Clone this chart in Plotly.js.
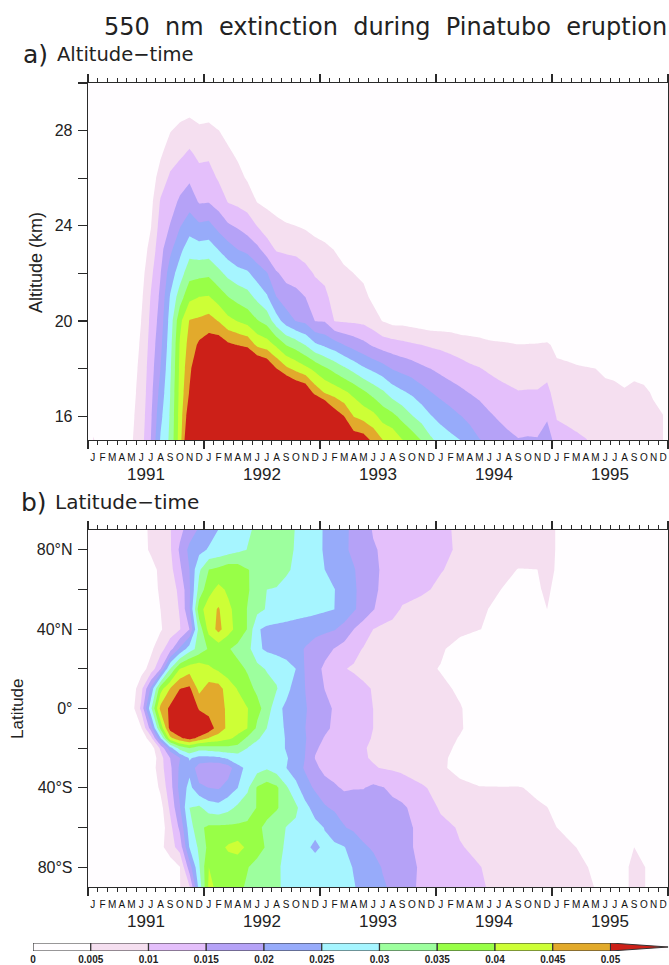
<!DOCTYPE html>
<html><head><meta charset="utf-8">
<script src="https://cdn.plot.ly/plotly-3.0.1.min.js"></script>
<style>html,body{margin:0;padding:0;background:#fff}#c{width:669px;height:965px}</style>
</head><body><div id="c"></div>
<script>
// Extinction values in units of 0.001 km-1
const contourLevels = [0,0.005,0.01,0.015,0.02,0.025,0.03,0.035,0.04,0.045,0.05];
const levelColors = ['#FFFDFF','#F5DFF0','#E4BFFB','#B5A2F7','#97ABFA','#A6F5FF','#9DFF9E','#98FF47','#CDFF36','#E2AA2C','#CC2018'];
const monthLetters = ['J','F','M','A','M','J','J','A','S','O','N','D'];
const yearLabels = ['1991','1992','1993','1994','1995'];
const altitudes = [15,16,17,18,19,20,21,22,23,24,25,26,27,28,29];
const altMonths = [0,1,3,4,5,6,7,8,9,10,11,12,13,14,15,16,17,18,19,20,21,22,23,24,25,26,27,28,29,30,31,32,33,34,35,36,37,38,39,40,41,42,43,44,45,46,47,48,49,50,51,52,53,54,55,56,57,58,59];
// one array per month, lowest altitude first
const altM0=[6],altM1=[0],altM3=[0];
const altM4=[4.5,4,3.5,3,2.5,2,1];
const altM5=[8,7.3,6.7,6.2,5.6,5,4,3,2,1];
const altM6=[15,14.2,13.4,12.7,11.9,11.1,10.3,8.8,6.7,4.7,3.5,2,1];
const altM7=[25.5,23.7,21.8,20,18.6,17.2,16,14.8,13.4,12,10.5,7.5,4.3,2];
const altM8=[31,30.5,29.9,29,28,27,25.4,22.5,18.9,15.2,12.9,10.8,8,4.7,1];
const altM9=[42.5,42,41.5,41,40.5,38.6,32.6,27.5,23.6,19.6,15.8,12.8,9.2,6.3,2.5];
const altM10=[58,54,50.4,48.6,46.9,45.3,38.8,33.2,28,22.7,18,14.2,10.8,7.4,3];
const altM11=[68,64,60,56,51,45.9,40.1,33.6,27.2,20.9,14.6,11.8,9,6.1,2];
const altM12=[72,68,63,58,53,47,40.4,34,27.5,21.4,14.8,12,9.2,6.3,2.5];
const altM13=[76,71,66,60,53.6,44.8,37.8,31.4,24.9,18.3,13,9.5,7.3,5.1,1];
const altM14=[75,70,64,58,50.9,41.4,35.1,28.6,22.2,15.7,9.8,7.8,5.9,3.5];
const altM15=[72,67,62,60,49.8,39.8,33.3,26.8,20,14.3,8.9,6.6,4.3,2];
const altM16=[72,67,63,60,48.8,38.2,31.9,25.8,18.7,12.5,7.9,4.5,2.5];
const altM17=[70,66,62,57.8,43.9,35.4,28.8,22.8,16.3,9.9,4.9,2];
const altM18=[68,64,60,55.5,42.4,33.3,25.7,20.4,12.7,7.4,4,1.5];
const altM19=[66,62,57,50,39,27.2,20.1,15.6,9.5,6.3,3];
const altM20=[68,65,60.3,46,34.8,22.7,17.4,13.4,9.2,5.4,2.5];
const altM21=[66,62,56.7,43.6,32.8,19.9,16.5,12.8,8.9,5,2];
const altM22=[64,60,55.1,41.3,29.8,18.9,15,11.5,7.9,4.4,1];
const altM23=[74,68,48,38.6,25.8,14.9,12.3,9.6,6.6,3.6];
const altM24=[66,61,44.6,35.8,24.1,14.7,11.4,8.5,5.9,3];
const altM25=[60,53.3,43,33.3,22.4,9.9,7.8,6.5,4.9,2];
const altM26=[60,50,40.9,30.8,19.9,9.5,7.7,5.8,3.5];
const altM27=[53.2,44.8,38.7,28.3,18,9.3,7.15,5,2.5];
const altM28=[52.6,43.1,35.9,25.7,16.3,8.9,6.4,4,1];
const altM29=[48.7,41.5,33.3,23.8,14.3,7.4,3.8,2];
const altM30=[45,38,30.8,22,12.8,4.8,2];
const altM31=[43.5,36.4,27.6,19.7,12.1,3.5,1];
const altM32=[40.2,33.5,25.7,18.5,11.3,3.5];
const altM33=[38,30.3,24.2,17.4,10.6,3];
const altM34=[34.8,28,22,16,10,2.5];
const altM35=[30.8,25.2,20.1,14.9,9.3,2];
const altM36=[28,23.3,18.6,13.7,8.9,2];
const altM37=[26.4,21.8,17.2,12.7,8.3,2];
const altM38=[25,20.2,16,11.8,7.6,1.5];
const altM39=[22,18.9,14.8,10.8,7.1,1.5];
const altM40=[20.2,17.1,13.9,10.2,6.8,1];
const altM41=[18.8,15.7,12.5,9.3,6.2];
const altM42=[17.4,14.4,11.5,8.6,5.8];
const altM43=[16.1,13.4,10.8,8.1,5.5];
const altM44=[15.2,12.7,10.2,7.7,5.1];
const altM45=[15.4,12.9,10.3,7.8,5.2];
const altM46=[15.3,12.8,10.3,7.8,5.3];
const altM47=[19,13.9,11.2,8.4,5.6];
const altM48=[11.6,9.7,7.8,5.9,3.9];
const altM49=[11.1,9.3,7.5,5.7,3.5];
const altM50=[10.6,8.9,7.2,5.4,3];
const altM51=[10.1,8.5,6.9,5.2,2.5];
const altM52=[9.4,7.9,6.5,5,2.5];
const altM53=[8.6,7.4,6.2,4.2,1];
const altM54=[8,7,5.9,4,1];
const altM55=[7.5,6.5,5.4,3.4,0.5];
const altM56=[8,7,5.9,4,1];
const altM57=[7.8,6.8,5.7,3.5,1];
const altM58=[6.8,5.8,4.6,2];
const altM59=[6,5.1,3,1];
const altColumns=[altM0,altM1,altM3,altM4,altM5,altM6,altM7,altM8,altM9,altM10,altM11,altM12,altM13,altM14,altM15,altM16,altM17,altM18,altM19,altM20,altM21,altM22,altM23,altM24,altM25,altM26,altM27,altM28,altM29,altM30,altM31,altM32,altM33,altM34,altM35,altM36,altM37,altM38,altM39,altM40,altM41,altM42,altM43,altM44,altM45,altM46,altM47,altM48,altM49,altM50,altM51,altM52,altM53,altM54,altM55,altM56,altM57,altM58,altM59];

const latMonths=[4,5,6,7,8,9,10,11,12,13,14,15,16,17,18,19,20,21,22,23,24,25,26,27,28,29,30,31,32,34,36,38,40,42,44,46,47,48,50,52,54,56,58,59];
const latitudes=[-90,-80,-70,-60,-50,-40,-30,-25,-20,-15,-10,0,10,20,30,40,50,60,70,80,90];
const latS90=[0,0,0,0,0,4.8,9.5,27,41,39,37.8,36,34.4,33.2,32,30.3,29.6,29,28.4,27.8,27.2,26.7,26.1,25.2,24,22.8,20.5,19.3,16.5,14.4,13,11.8,10.3,9.4,8.5,7.7,7.3,6.9,6.2,4.9,0,7,3.5,0];
const latS80=[0,0,0,0,2,4.8,17.5,29.5,40,38.5,37.5,36.5,35.2,33.6,32,30.5,29.3,28.5,28,27.5,27,26.5,26,24.8,23.3,21.5,19.7,18,16.7,14.5,12.8,11,10.1,9.1,8.2,7.4,7,6.6,5.8,4.5,0,7,3.5,0];
const latS70=[0,0,0,3.5,7.8,12,25.2,31,36.4,38.5,40.7,42,39,36.7,34.5,31.5,29.4,27.3,26,24,26,25.9,25.2,23,20.6,19.5,19,17.4,16.3,14,12,10.2,9.3,8.4,7.5,6.7,6.3,5.8,5,1,0,5,0.5,0];
const latS60=[0,0,0,2,8.5,16,27.5,34,36,36,36,36,36,36,33.9,32,29.9,29,27.8,26.6,24.8,22.5,20.2,19.2,18.3,17.7,17,16.5,15.9,14.3,11.2,9.6,8.7,7.8,6.9,6.1,5.6,5,3,1];
const latS50=[0,0,0.5,3,11,19.6,30,31,27.5,26.8,28.5,31,33,35.2,36.8,35.5,33,31,26.5,23,20.4,19.4,18.7,18.2,17.7,17.2,16.6,16.2,15.7,13,9.4,8.6,7.8,7,6.3,5.5,5.1,3.5,1.5];
const latS40=[0,0,1,6,13,21.5,26.5,21,20,19.5,22,25,29,35.5,37.5,36,30.8,26.6,22,19.3,17.9,16,14.2,14.7,14.8,16,15.2,14,13,10.6,8.5,6,5.2,5.2,5.3,4.2,2.5,1.5];
const latS30=[0,0,2,8,14,20.9,23.6,17,15.5,15.5,17.5,23.7,26,28,29.5,27.5,25.1,22.4,19.3,16.5,13,12,11.6,11.2,10.8,10.3,9.8,9.4,8.8,7.7,5.6,3.8,2.5,1.5,0.5];
const latS25=[0,0,1,8,15,19.8,25.5,23.5,23.5,24,26,27.5,28.5,29,28.5,27,25.5,23,19.8,14.8,13.4,12.4,11.6,10.9,10.3,9.7,9.2,8.7,8.1,7.2,5.7,3.8,2.3,1];
const latS20=[0,0,2,10.8,22.6,31.8,35,32,32.5,33,33.5,33,29.9,28.8,27.9,27,24.7,22,20,15.5,14,13,12.1,11.2,10.3,9.4,8.8,8.3,7.7,6.9,5.9,4.4,2.5,1];
const latS15=[0,1,8,24.5,43.5,49,52,48.5,44.7,43,41,38.6,34,30.4,29,27,24.7,22.3,20.3,16.6,14.7,13.9,12.9,11.9,11,9.7,9.1,8.6,8,7.2,6.2,4.8,3,1.5];
const latS10=[0.5,4.5,17,36,52,54.5,57,56,53,47.5,44,42,40,34.1,30,27,24.4,22.2,20,18,15.8,14.3,13.2,12.2,11.1,10,9.4,8.9,8.2,7.5,6.5,5.3,3.5,2,1];
const latEq=[2.5,11,28.5,46.5,51,55,56,49.4,48,47,44,42.3,40.2,36.5,33,26.5,24,22,20.3,18.4,16.1,14.6,13.5,12.5,11.2,10,9.5,9,8.4,7.6,6.6,5.2,3.5,2,1];
const latN10=[2,8.3,20.8,38,45.2,49.9,51,43.5,47,47,42.5,39.7,36.5,34.1,32.5,30.4,26.5,23.1,19.9,17.5,14.9,13.9,12.7,11.7,10.6,9.8,9.2,8.7,8.2,7.3,5.7,4.5,3,2,1];
const latN20=[0.5,3,6.8,14.7,30,40,43,43.5,41,39,37.5,36.3,34.5,31.8,29.5,28.5,27.2,25,19.4,16.6,14.1,12.2,10.2,9.5,9,8.5,8,7.5,6.9,5.9,4.8,3,2,1];
const latN30=[0.5,2,4,8,13.2,20.8,27.6,32,35.5,37,35.4,33.6,32,26,24.2,23.4,22.5,21.3,19.7,18,16.5,14.8,13,11.4,9.7,8.5,7.7,7.2,6.7,6.2,5.5,3.5,2,1];
const latN40=[0,1,2.5,4.5,7.3,9.7,15,32,41.8,46.5,42,38.2,34.8,25.5,24,23.5,23,22.5,22,21.5,21,20.3,18.5,15,12.5,10,9,8.6,8.2,7.5,6.8,6,5.1,4,3,2,2,1];
const latN50=[0,1,3,5,7.6,10.3,19.3,38,42.7,45.5,41.2,38,34.8,31.6,29.6,28.9,28.3,27.6,27,26.4,25.7,25,23,20.6,18.1,15.3,13,11.5,9.6,8.5,7.5,6.6,5.4,4.5,3.5,3.5,5,3,1];
const latN60=[0,1.5,3.5,5.5,7.9,11,19.3,31.9,38.2,41.5,39.1,37.3,35.5,33,30,29.8,29,28.3,27.6,26.8,26.1,25.1,22.9,20.7,18.3,15.9,14.2,13,11.5,10.7,9.2,7.6,6.6,5.1,4.2,4.8,5.3,4.5,2,0.5];
const latN70=[0,2,3.5,5.9,8.4,14,20,29.2,35,36.2,38,37.5,35.2,34,33,31.5,30.5,29.4,27.9,26.5,25,23.5,21.9,20.3,18.2,15.9,14.5,14,12.8,11.5,10.2,9,7.5,6.1,4.9,5,5.3,4.9,3,1];
const latN80=[1,3.5,5.6,7.5,9.4,15.8,21.3,23.5,25.5,26.4,27.6,28.9,30.1,31,32,32,31,29.7,28,26.2,24.6,22.7,20.8,19,17.2,15.4,14.5,14,13,11.9,10.8,9.5,8.6,7.7,6.8,5.9,5.5,4.9,3,1];
const latN90=[1,3.5,5.8,7.7,9.7,13.6,17.5,20.7,22.9,25.1,26.6,28.1,29.6,30.5,31,31,30.7,29.9,28,26.3,24.6,22.6,20.9,19,16.9,14.7,14.2,13.7,13.1,11.8,10.6,9.5,8.6,7.7,6.8,5.9,5.5,4.9,3,1];
const latRows=[latS90,latS80,latS70,latS60,latS50,latS40,latS30,latS25,latS20,latS15,latS10,latEq,latN10,latN20,latN30,latN40,latN50,latN60,latN70,latN80,latN90];

const W=669,H=965;
const pad=(a,n)=>a.concat(new Array(Math.max(0,n-a.length)).fill(0));
const domX=(a,b)=>[a/W,b/W];
const domY=(top,bot)=>[1-bot/H,1-top/H];
const altZ=altitudes.map((_,r)=>altColumns.map(c=>pad(c,altitudes.length)[r]));
const latZ=latRows.map(r=>pad(r,latMonths.length));
const colorscale=levelColors.map((c,i)=>[i/(levelColors.length-1),c]);
const contourOpts={type:'contour',autocontour:false,contours:{start:5,end:50,size:5,coloring:'fill',showlines:false},line:{width:0,smoothing:0},colorscale,zauto:false,zmin:0,zmax:55,showscale:false,hoverinfo:'skip'};
const mc=Array.from({length:60},(_,i)=>i+0.5);
const yc=Array.from({length:5},(_,i)=>i*12+6);
const inkc='#2a2a2a';

const traces=[
 Object.assign({x:altMonths.map(m=>m+0.5),y:altitudes,z:altZ,xaxis:'x',yaxis:'y'},contourOpts),
 Object.assign({x:latMonths.map(m=>m+0.5),y:latitudes,z:latZ,xaxis:'x2',yaxis:'y2'},contourOpts),
 {type:'scatter',mode:'none',x:mc,y:mc.map(()=>null),xaxis:'x3',yaxis:'y',showlegend:false,hoverinfo:'skip'},
 {type:'scatter',mode:'none',x:yc,y:yc.map(()=>null),xaxis:'x4',yaxis:'y',showlegend:false,hoverinfo:'skip'},
 {type:'scatter',mode:'none',x:mc,y:mc.map(()=>null),xaxis:'x5',yaxis:'y2',showlegend:false,hoverinfo:'skip'},
 {type:'scatter',mode:'none',x:yc,y:yc.map(()=>null),xaxis:'x6',yaxis:'y2',showlegend:false,hoverinfo:'skip'}
];
// colour key
for(let i=0;i<contourLevels.length-1;i++){
 traces.push({type:'bar',orientation:'h',y:[0],x:[contourLevels[i+1]-contourLevels[i]],base:[contourLevels[i]],width:[1],xaxis:'x7',yaxis:'y3',
  marker:{color:levelColors[i],line:{color:'#333',width:1.2}},showlegend:false,hoverinfo:'skip'});
}
const lastLevel=contourLevels[contourLevels.length-1];
traces.push({type:'scatter',mode:'lines',x:[lastLevel,0.055,lastLevel,lastLevel],y:[-0.5,0,0.5,-0.5],fill:'toself',fillcolor:levelColors[10],line:{color:'#333',width:1},xaxis:'x7',yaxis:'y3',showlegend:false,hoverinfo:'skip'});

const baseX={range:[0,60],showgrid:false,zeroline:false,showticklabels:false,tickmode:'array',tickvals:[0,12,24,36,48,60],ticks:'outside',ticklen:8,tickwidth:1.3,tickcolor:inkc,showline:true,linecolor:inkc,linewidth:1.3,mirror:'ticks',
 minor:{dtick:1,tick0:0,ticks:'outside',ticklen:4,tickwidth:1,tickcolor:inkc,showgrid:false}};
const labelAxis=(over,anchor,vals,text,size,standoff,color,weight)=>({overlaying:over,anchor:anchor,side:'bottom',domain:domX(88,668),range:[0,60],showgrid:false,zeroline:false,showline:false,ticks:'',tickmode:'array',tickvals:vals,ticktext:text,tickangle:0,ticklabelstandoff:standoff,tickfont:{family:'Liberation Sans',size:size,color:color,weight:weight}});
const monthText=mc.map((_,i)=>monthLetters[i%12]);
const nb='\u00A0\u00A0';
const layout={width:W,height:H,margin:{l:0,r:0,t:0,b:0},paper_bgcolor:'#fff',plot_bgcolor:levelColors[0],showlegend:false,barmode:'overlay',bargap:0,
 font:{family:'Liberation Sans',color:'#222'},
 xaxis:Object.assign({},baseX,{domain:domX(88,668),anchor:'y'}),
 yaxis:{domain:domY(83,440),anchor:'x',range:[15,30],showgrid:false,zeroline:false,tickmode:'array',tickvals:[16,18,20,22,24,26,28,30],ticktext:['16','','20','','24','','28',''],ticks:'outside',ticklen:9,tickwidth:1.3,tickcolor:inkc,showline:true,linecolor:inkc,linewidth:1.3,mirror:'ticks',tickfont:{size:16,color:'#222'},ticklabelstandoff:2},
 xaxis2:Object.assign({},baseX,{domain:domX(88,668),anchor:'y2'}),
 yaxis2:{domain:domY(530,887),anchor:'x2',range:[-90,90],showgrid:false,zeroline:false,tickmode:'array',tickvals:[-80,-60,-40,-20,0,20,40,60,80],ticktext:['80°S','','40°S','','0°','','40°N','','80°N'],ticks:'outside',ticklen:9,tickwidth:1.3,tickcolor:inkc,showline:true,linecolor:inkc,linewidth:1.3,mirror:'ticks',tickfont:{size:16,color:'#222'},ticklabelstandoff:2},
 xaxis3:labelAxis('x','y',mc,monthText,10,10,'#111',400),
 xaxis4:labelAxis('x','y',yc,yearLabels,17,22,'#222',400),
 xaxis5:labelAxis('x2','y2',mc,monthText,10,10,'#111',400),
 xaxis6:labelAxis('x2','y2',yc,yearLabels,17,22,'#222',400),
 xaxis7:{domain:domX(33,668.25),anchor:'y3',range:[0,0.055],showgrid:false,zeroline:false,showline:false,tickmode:'array',tickvals:contourLevels,ticktext:contourLevels.map(String),ticks:'',tickangle:0,tickfont:{size:10,weight:700,color:'#222'},ticklabelstandoff:1},
 yaxis3:{domain:domY(943,951),anchor:'x7',range:[-0.5,0.5],visible:false},
 annotations:[
  {xref:'paper',yref:'paper',x:385/W,y:1-27/H,text:'550'+nb+'nm'+nb+'extinction'+nb+'during'+nb+'Pinatubo'+nb+'eruption',showarrow:false,xanchor:'center',yanchor:'middle',font:{family:'DejaVu Sans',size:24,color:'#222'}},
  {xref:'paper',yref:'paper',x:21/W,y:1-55/H,text:'a)',showarrow:false,xanchor:'left',yanchor:'middle',font:{family:'DejaVu Sans',size:25,color:'#222'}},
  {xref:'paper',yref:'paper',x:55/W,y:1-55/H,text:'Altitude−time',showarrow:false,xanchor:'left',yanchor:'middle',font:{family:'DejaVu Sans',size:19.5,color:'#222'}},
  {xref:'paper',yref:'paper',x:19/W,y:1-502/H,text:'b)',showarrow:false,xanchor:'left',yanchor:'middle',font:{family:'DejaVu Sans',size:25,color:'#222'}},
  {xref:'paper',yref:'paper',x:53/W,y:1-502/H,text:'Latitude−time',showarrow:false,xanchor:'left',yanchor:'middle',font:{family:'DejaVu Sans',size:20,color:'#222'}},
  {xref:'paper',yref:'paper',x:36/W,y:1-263/H,text:'Altitude (km)',textangle:-90,showarrow:false,xanchor:'center',yanchor:'middle',font:{size:18,color:'#222'}},
  {xref:'paper',yref:'paper',x:17.5/W,y:1-708.5/H,text:'Latitude',textangle:-90,showarrow:false,xanchor:'center',yanchor:'middle',font:{size:17,color:'#222'}}
 ]};
Plotly.newPlot('c',traces,layout,{staticPlot:true,displayModeBar:false});
</script></body></html>
